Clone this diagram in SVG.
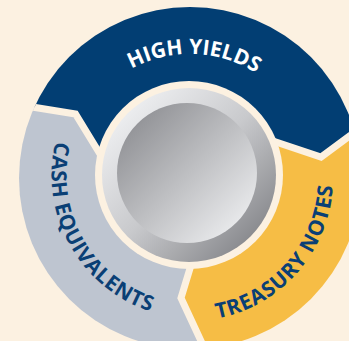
<svg xmlns="http://www.w3.org/2000/svg" width="349" height="341" viewBox="0 0 349 341">
  <style>
    .gap { fill: none; stroke: #FCF1E1; stroke-width: 7; stroke-linejoin: miter; stroke-miterlimit: 10; }
    .lbl { font-family: "Open Sans", "Liberation Sans", sans-serif; font-weight: 700; font-size: 21px; letter-spacing: 0px; }
    .wide { letter-spacing: 0.6px; }
    .dark { fill: #0A3F75; }
    .light { fill: #FFFFFF; }
  </style>
  <defs>
    <clipPath id="ringClip"><circle cx="190" cy="178" r="171"/></clipPath>
    <linearGradient id="rimGrad" x1="0.15" y1="0.15" x2="0.85" y2="0.85">
      <stop offset="0" stop-color="#EBECEE"/>
      <stop offset="0.5" stop-color="#C8C9CC"/>
      <stop offset="1" stop-color="#8C8D91"/>
    </linearGradient>
    <linearGradient id="discGrad" x1="0.15" y1="0.15" x2="0.85" y2="0.85">
      <stop offset="0" stop-color="#95969A"/>
      <stop offset="1" stop-color="#E6E7E9"/>
    </linearGradient>
    <path id="arcHY" d="M68.7,152.2 A124,124 0 0 1 312.8,160.7"/>
    <path id="arcTN" d="M116.3,300.6 A143,143 0 0 0 301.1,88.0"/>
    <path id="arcCE" d="M100.2,68 A143,143 0 0 0 236.8,312.06"/>
  </defs>
  <rect x="0" y="0" width="349" height="341" fill="#FCF1E1"/>
  <g clip-path="url(#ringClip)">
    <g id="high-yields">
      <polygon fill="#023E73" points="190,178 107,165.5 75.5,114 10.5,103.5 -30,90 -30,-30 400,-30 400,110 372,119.5 321,157 258,136"/>
    </g>
    <g id="treasury-notes">
      <polygon fill="#F6BD45" points="190,178 258,136 321,157 372,119.5 400,110 400,400 230,400 211,362.5 181,298 195,252"/>
    </g>
    <g id="cash-equivalents">
      <polygon fill="#BEC5D0" points="190,178 195,252 181,298 211,362.5 230,400 -30,400 -30,90 10.5,103.5 75.5,114 107,165.5"/>
    </g>
    <g id="connectors">
      <polyline class="gap" points="107,165.5 75.5,114 10.5,103.5"/>
      <polyline class="gap" points="258,136 321,157 372,119.5"/>
      <polyline class="gap" points="195,252 181,298 211,362.5"/>
    </g>
  </g>
  <g id="hub">
    <circle cx="189" cy="175" r="94" fill="#FCF1E1"/>
    <circle cx="189" cy="175" r="87" fill="url(#rimGrad)"/>
    <circle cx="187" cy="173" r="70" fill="url(#discGrad)"/>
  </g>
  <g id="labels">
    <text class="lbl light"><textPath href="#arcHY" startOffset="50%" text-anchor="middle">HIGH YIELDS</textPath></text>
    <text class="lbl dark wide"><textPath href="#arcTN" startOffset="50%" text-anchor="middle">TREASURY NOTES</textPath></text>
    <text class="lbl dark wide"><textPath href="#arcCE" startOffset="50%" text-anchor="middle">CASH EQUIVALENTS</textPath></text>
  </g>
</svg>
